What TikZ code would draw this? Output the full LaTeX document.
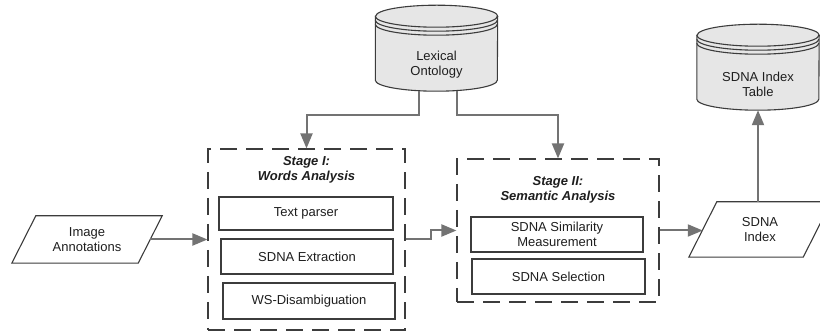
\documentclass[tikz,border=0pt]{standalone}
\usepackage{fontspec}
\setmainfont{Liberation Sans}
\usetikzlibrary{arrows.meta,calc}
\pgfdeclarelayer{background}
\pgfsetlayers{background,main}
\definecolor{lineC}{HTML}{3C3C3C}
\definecolor{arrowC}{HTML}{737373}
\definecolor{cylC}{HTML}{E6E6E6}
\definecolor{txtC}{HTML}{1E1E1E}
\newcommand{\dbcyl}[1]{%
  \filldraw[fill=cylC, draw=lineC, line width=1.1pt]
    ([yshift=75pt]#1.south west) -- ([yshift=11pt]#1.south west)
    arc[start angle=180, end angle=360, x radius=61pt, y radius=11pt]
    -- ([yshift=75pt]#1.south east)
    arc[start angle=0, end angle=180, x radius=61pt, y radius=11pt] -- cycle;
  \draw[draw=lineC, line width=1.1pt] ([yshift=75pt]#1.south west)
    arc[start angle=180, end angle=360, x radius=61pt, y radius=11pt];
  \draw[draw=lineC, line width=1.1pt] ([yshift=71pt]#1.south west)
    arc[start angle=180, end angle=360, x radius=61pt, y radius=11pt];
  \draw[draw=lineC, line width=1.1pt] ([yshift=67pt]#1.south west)
    arc[start angle=180, end angle=360, x radius=61pt, y radius=11pt];
}
\begin{document}
\begin{tikzpicture}[x=1pt,y=1pt,
  every node/.style={font=\fontsize{13}{15}\selectfont, text=txtC, align=center},
  procbox/.style={draw=lineC, line width=1.1pt, inner sep=0pt},
  stagebox/.style={draw=lineC, line width=1.1pt, dash pattern=on 17pt off 9pt, inner sep=0pt},
  stagetitle/.style={font=\fontsize{13}{15}\selectfont\bfseries\itshape},
  para/.style={inner sep=0pt},
  cyl/.style={inner sep=0pt, minimum width=122pt, minimum height=52pt},
  shapeline/.style={draw=lineC, line width=1.1pt},
  conn/.style={draw=arrowC, line width=2pt, -{Triangle[length=15pt,width=12pt]}},
]
\useasboundingbox (0,0) rectangle (820,-336);

% stage containers
\node[stagebox, minimum width=197pt, minimum height=181pt] (s1) at (306.5,-239.5) {};
\node[stagebox, minimum width=202pt, minimum height=143pt] (s2) at (558,-230.5) {};
\node[stagetitle] (t1) at (306.5,-169.5) {Stage I:\\Words Analysis};
\node[stagetitle] (t2) at (558,-189.5) {Stage II:\\Semantic Analysis};

% process boxes
\node[procbox, minimum width=174pt, minimum height=33pt] (tp) at (306,-213.5) {Text parser};
\node[procbox, minimum width=172pt, minimum height=35pt] (se) at (307,-256.5) {SDNA Extraction};
\node[procbox, minimum width=172pt, minimum height=36pt] (ws) at (309,-301) {WS-Disambiguation};
\node[procbox, minimum width=172pt, minimum height=35pt] (sm) at (557,-234.5) {SDNA Similarity\\Measurement};
\node[procbox, minimum width=173pt, minimum height=35pt] (ss) at (558.5,-276.5) {SDNA Selection};

% data (parallelograms)
\node[para, minimum width=126pt, minimum height=47pt] (ia) at (87,-239.5) {Image\\Annotations};
\node[para, minimum width=114pt, minimum height=55pt] (idx) at (760,-229.5) {SDNA\\Index};
\draw[shapeline] ([xshift=12pt]ia.north west) -- ([xshift=12pt]ia.north east)
  -- ([xshift=-12pt]ia.south east) -- ([xshift=-12pt]ia.south west) -- cycle;
\draw[shapeline] ([xshift=14pt]idx.north west) -- ([xshift=14pt]idx.north east)
  -- ([xshift=-14pt]idx.south east) -- ([xshift=-14pt]idx.south west) -- cycle;

% databases
\node[cyl] (lex) at (436.5,-65) {Lexical\\Ontology};
\node[cyl] (tbl) at (758,-84) {SDNA Index\\Table};
\begin{pgfonlayer}{background}
  \dbcyl{lex}
  \dbcyl{tbl}
\end{pgfonlayer}

% connectors
\draw[conn] (ia.east) -- (s1.west);
\draw[conn] ([xshift=-17.5pt]lex.south) -- ++(0,-24pt) -| (s1.north);
\draw[conn] ([xshift=20.5pt]lex.south) -- ++(0,-24pt) -| (s2.north);
\draw[conn] (s1.east) -- ++(25pt,0) |- (s2.west);
\draw[conn] (s2.east) -- (s2.east -| idx.west);
\draw[conn] (idx.north -| tbl.south) -- (tbl.south);
\end{tikzpicture}
\end{document}
